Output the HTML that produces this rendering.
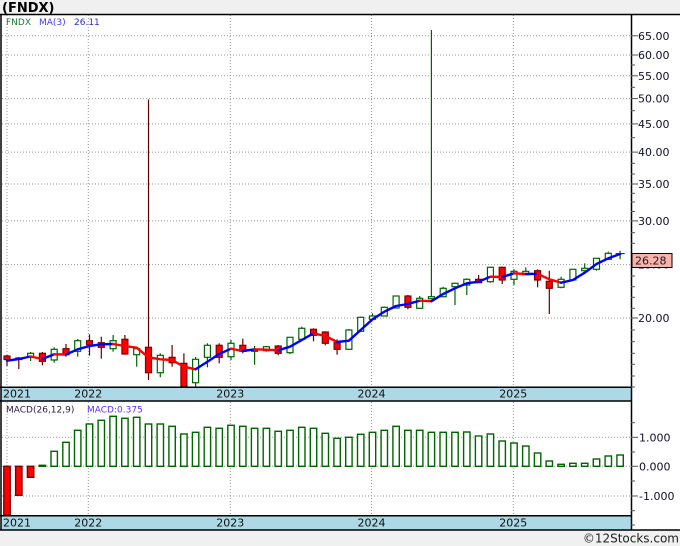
<!DOCTYPE html>
<html><head><meta charset="utf-8"><style>
html,body{margin:0;padding:0;background:#fff;}
svg{display:block;}
text{font-family:"DejaVu Sans","Liberation Sans",sans-serif;}
</style></head><body>
<svg width="680" height="546" viewBox="0 0 680 546" xmlns="http://www.w3.org/2000/svg">
<rect x="0" y="0" width="680" height="546" fill="#fff"/>
<rect x="0" y="0" width="680" height="14" fill="#f0f0f0"/>
<rect x="0" y="530" width="680" height="16" fill="#f0f0f0"/>
<text x="2" y="12" font-family="Liberation Sans, sans-serif" font-weight="bold" font-size="13" fill="#000">(FNDX)</text>

<rect x="1" y="387.3" width="630.5" height="13.7" fill="#add8e6"/>
<rect x="1" y="515.7" width="630.5" height="14.3" fill="#add8e6"/>

<g stroke="#9a9a9a" stroke-width="1" stroke-dasharray="1 2" fill="none">
<line x1="2" y1="35.8" x2="631" y2="35.8"/>
<line x1="2" y1="55" x2="631" y2="55"/>
<line x1="2" y1="75.8" x2="631" y2="75.8"/>
<line x1="2" y1="98.6" x2="631" y2="98.6"/>
<line x1="2" y1="123.9" x2="631" y2="123.9"/>
<line x1="2" y1="152.1" x2="631" y2="152.1"/>
<line x1="2" y1="184" x2="631" y2="184"/>
<line x1="2" y1="220.9" x2="631" y2="220.9"/>
<line x1="2" y1="264.6" x2="631" y2="264.6"/>
<line x1="2" y1="318" x2="631" y2="318"/>
<line x1="7" y1="15" x2="7" y2="387"/>
<line x1="88.3" y1="15" x2="88.3" y2="387"/>
<line x1="230.3" y1="15" x2="230.3" y2="387"/>
<line x1="371.5" y1="15" x2="371.5" y2="387"/>
<line x1="513.3" y1="15" x2="513.3" y2="387"/>
<line x1="2" y1="437.3" x2="631" y2="437.3"/>
<line x1="2" y1="466.3" x2="631" y2="466.3"/>
<line x1="2" y1="496" x2="631" y2="496"/>
<line x1="7" y1="402" x2="7" y2="515"/>
<line x1="88.3" y1="402" x2="88.3" y2="515"/>
<line x1="230.3" y1="402" x2="230.3" y2="515"/>
<line x1="371.5" y1="402" x2="371.5" y2="515"/>
<line x1="513.3" y1="402" x2="513.3" y2="515"/>
</g>

<text x="6" y="25" font-size="9" fill="#1f7a3a">FNDX</text>
<text x="39" y="25" font-size="9" fill="#3a3aff">MA(3)</text>
<text x="74" y="25" font-size="9" fill="#2a2ae0">26.11</text>
<text x="6" y="412.7" font-size="9" fill="#2a1a3a">MACD(26,12,9)</text>
<text x="87" y="412.7" font-size="9" fill="#5a30ff">MACD:0.375</text>

<g stroke-width="1.2">
<g stroke="#600000">
<line x1="7.0" y1="355" x2="7.0" y2="366"/>
<line x1="18.8" y1="357" x2="18.8" y2="369"/>
<line x1="42.4" y1="352" x2="42.4" y2="365.3"/>
<line x1="66.0" y1="344" x2="66.0" y2="356.7"/>
<line x1="89.5" y1="334.3" x2="89.5" y2="355.7"/>
<line x1="101.3" y1="336.7" x2="101.3" y2="358.7"/>
<line x1="124.9" y1="335" x2="124.9" y2="354.7"/>
<line x1="148.5" y1="99.5" x2="148.5" y2="380"/>
<line x1="172.1" y1="345" x2="172.1" y2="366.7"/>
<line x1="183.9" y1="353.3" x2="183.9" y2="387"/>
<line x1="219.2" y1="343.3" x2="219.2" y2="363.3"/>
<line x1="242.8" y1="338.7" x2="242.8" y2="353.3"/>
<line x1="278.2" y1="345" x2="278.2" y2="355.3"/>
<line x1="313.5" y1="328.3" x2="313.5" y2="341.3"/>
<line x1="325.3" y1="331.3" x2="325.3" y2="345.3"/>
<line x1="337.1" y1="339.3" x2="337.1" y2="354.7"/>
<line x1="407.9" y1="295" x2="407.9" y2="309.3"/>
<line x1="478.6" y1="275" x2="478.6" y2="282.7"/>
<line x1="502.2" y1="266.7" x2="502.2" y2="284"/>
<line x1="537.6" y1="269.3" x2="537.6" y2="287.3"/>
<line x1="549.3" y1="270.7" x2="549.3" y2="314"/>
</g>
<g stroke="#006400">
<line x1="30.6" y1="352" x2="30.6" y2="361"/>
<line x1="54.2" y1="347.3" x2="54.2" y2="362.7"/>
<line x1="77.7" y1="339" x2="77.7" y2="356.7"/>
<line x1="113.1" y1="335" x2="113.1" y2="351.7"/>
<line x1="136.7" y1="346.7" x2="136.7" y2="366.7"/>
<line x1="160.3" y1="353.3" x2="160.3" y2="377.3"/>
<line x1="195.6" y1="357" x2="195.6" y2="387"/>
<line x1="207.4" y1="343.3" x2="207.4" y2="367.3"/>
<line x1="231.0" y1="340" x2="231.0" y2="360"/>
<line x1="254.6" y1="346" x2="254.6" y2="364.7"/>
<line x1="266.4" y1="346" x2="266.4" y2="351.7"/>
<line x1="290.0" y1="337" x2="290.0" y2="354"/>
<line x1="301.8" y1="326.7" x2="301.8" y2="340"/>
<line x1="348.9" y1="329" x2="348.9" y2="350"/>
<line x1="360.7" y1="316.5" x2="360.7" y2="332"/>
<line x1="372.5" y1="313.3" x2="372.5" y2="320"/>
<line x1="384.3" y1="306.5" x2="384.3" y2="316.5"/>
<line x1="396.1" y1="295.5" x2="396.1" y2="308.5"/>
<line x1="419.7" y1="296" x2="419.7" y2="308.3"/>
<line x1="431.4" y1="30" x2="431.4" y2="299"/>
<line x1="443.2" y1="286.7" x2="443.2" y2="297.3"/>
<line x1="455.0" y1="282.7" x2="455.0" y2="305"/>
<line x1="466.8" y1="278.3" x2="466.8" y2="295"/>
<line x1="490.4" y1="266.7" x2="490.4" y2="282.7"/>
<line x1="514.0" y1="269.3" x2="514.0" y2="285"/>
<line x1="525.8" y1="267.3" x2="525.8" y2="274.7"/>
<line x1="561.1" y1="276.7" x2="561.1" y2="288.3"/>
<line x1="572.9" y1="269" x2="572.9" y2="281"/>
<line x1="584.7" y1="263.3" x2="584.7" y2="270.7"/>
<line x1="596.5" y1="258.3" x2="596.5" y2="270.7"/>
<line x1="608.3" y1="251.7" x2="608.3" y2="260"/>
<line x1="620.1" y1="250.7" x2="620.1" y2="259.3"/>
<line x1="615.6" y1="253.6" x2="624.6" y2="253.6"/>
</g>
</g>

<g stroke-width="1.2">
<g fill="#ff0000" stroke="#800000">
<rect x="4.0" y="356" width="6" height="3.5"/>
<rect x="15.8" y="358" width="6" height="1.5"/>
<rect x="39.4" y="353.3" width="6" height="8"/>
<rect x="63.0" y="348.7" width="6" height="6"/>
<rect x="86.5" y="340.7" width="6" height="4"/>
<rect x="98.3" y="342.7" width="6" height="4.6"/>
<rect x="121.9" y="339.3" width="6" height="14.7"/>
<rect x="145.5" y="347.3" width="6" height="25.4"/>
<rect x="169.1" y="357.3" width="6" height="5.4"/>
<rect x="180.9" y="363.3" width="6" height="23.4"/>
<rect x="216.2" y="345.3" width="6" height="12"/>
<rect x="239.8" y="345.3" width="6" height="6"/>
<rect x="275.2" y="346" width="6" height="7.3"/>
<rect x="310.5" y="329.3" width="6" height="6"/>
<rect x="322.3" y="332" width="6" height="11.3"/>
<rect x="334.1" y="342.7" width="6" height="6.6"/>
<rect x="404.9" y="296" width="6" height="11.3"/>
<rect x="475.6" y="279.3" width="6" height="3.4"/>
<rect x="499.2" y="267.3" width="6" height="12.7"/>
<rect x="534.6" y="270.7" width="6" height="9.3"/>
<rect x="546.3" y="281.3" width="6" height="7"/>
</g>
<g fill="#fff" stroke="#006400">
<rect x="27.6" y="353.3" width="6" height="4"/>
<rect x="51.2" y="349.3" width="6" height="10.7"/>
<rect x="74.7" y="340.7" width="6" height="10.6"/>
<rect x="110.1" y="340.7" width="6" height="8"/>
<rect x="133.7" y="348.7" width="6" height="6"/>
<rect x="157.3" y="355.3" width="6" height="17.4"/>
<rect x="192.6" y="359.3" width="6" height="23.4"/>
<rect x="204.4" y="345.3" width="6" height="12"/>
<rect x="228.0" y="343.3" width="6" height="13.4"/>
<rect x="251.6" y="349.3" width="6" height="2" fill="#006400"/>
<rect x="263.4" y="346.7" width="6" height="4"/>
<rect x="287.0" y="337.3" width="6" height="15.4"/>
<rect x="298.8" y="328.3" width="6" height="11"/>
<rect x="345.9" y="330" width="6" height="19.3"/>
<rect x="357.7" y="317.3" width="6" height="14"/>
<rect x="369.5" y="316" width="6" height="3.3"/>
<rect x="381.3" y="307.3" width="6" height="8.7"/>
<rect x="393.1" y="296" width="6" height="12"/>
<rect x="416.7" y="298.3" width="6" height="10"/>
<rect x="428.4" y="296.7" width="6" height="2"/>
<rect x="440.2" y="288.3" width="6" height="8.4"/>
<rect x="452.0" y="283.3" width="6" height="3.4"/>
<rect x="463.8" y="279.3" width="6" height="5.7"/>
<rect x="487.4" y="267.3" width="6" height="14.4"/>
<rect x="511.0" y="271.3" width="6" height="8"/>
<rect x="522.8" y="271.3" width="6" height="3.4"/>
<rect x="558.1" y="279.3" width="6" height="8"/>
<rect x="569.9" y="269.3" width="6" height="10.7"/>
<rect x="581.7" y="268.3" width="6" height="2.4"/>
<rect x="593.5" y="258.3" width="6" height="11"/>
<rect x="605.3" y="253.3" width="6" height="6"/>
</g>
</g>

<g fill="none" stroke-width="2.4" stroke-linejoin="round" stroke-linecap="round">
<polyline stroke="#0000ff" points="7.0,360.7 18.8,359 30.6,356.5"/>
<polyline stroke="#ff0000" points="30.6,356.5 42.4,359"/>
<polyline stroke="#0000ff" points="42.4,359 54.2,354.3"/>
<polyline stroke="#ff0000" points="54.2,354.3 66.0,354.5"/>
<polyline stroke="#0000ff" points="66.0,354.5 77.7,349.3 89.5,346 101.3,344.3 113.1,344"/>
<polyline stroke="#ff0000" points="113.1,344 124.9,346 136.7,347.7 148.5,357.3 160.3,359.3 172.1,360 183.9,366.7 195.6,369.3"/>
<polyline stroke="#0000ff" points="195.6,369.3 207.4,361.7 219.2,354 231.0,348.7"/>
<polyline stroke="#ff0000" points="231.0,348.7 242.8,351"/>
<polyline stroke="#0000ff" points="242.8,351 254.6,349.3"/>
<polyline stroke="#ff0000" points="254.6,349.3 266.4,349.7 278.2,350.3"/>
<polyline stroke="#0000ff" points="278.2,350.3 290.0,346.7 301.8,340 313.5,333.3"/>
<polyline stroke="#ff0000" points="313.5,333.3 325.3,336 337.1,342"/>
<polyline stroke="#0000ff" points="337.1,342 348.9,340.7 360.7,330 372.5,319.3 384.3,311.7 396.1,306 407.9,304 419.7,300.7"/>
<polyline stroke="#ff0000" points="419.7,300.7 431.4,301.2"/>
<polyline stroke="#0000ff" points="431.4,301.2 443.2,294 455.0,288.3 466.8,283.3 478.6,281.7 490.4,276.7"/>
<polyline stroke="#ff0000" points="490.4,276.7 502.2,277"/>
<polyline stroke="#0000ff" points="502.2,277 514.0,273.3"/>
<polyline stroke="#ff0000" points="514.0,273.3 525.8,274"/>
<polyline stroke="#0000ff" points="525.8,274 537.6,273.8"/>
<polyline stroke="#ff0000" points="537.6,273.8 549.3,279.3 561.1,282.7"/>
<polyline stroke="#0000ff" points="561.1,282.7 572.9,280 584.7,272.7 596.5,264 608.3,258.3 620.1,254"/>
</g>

<g stroke-width="1.4">
<g fill="#ff0000" stroke="#800000">
<rect x="3.8" y="466.3" width="6.4" height="48.7"/>
<rect x="15.6" y="466.3" width="6.4" height="29"/>
<rect x="27.4" y="466.3" width="6.4" height="11"/>
</g>
<g fill="#fff" stroke="#006400">
<rect x="39.2" y="465.3" width="6.4" height="1" fill="#006400"/>
<rect x="51.0" y="451.3" width="6.4" height="15"/>
<rect x="62.8" y="442.3" width="6.4" height="24"/>
<rect x="74.5" y="430.3" width="6.4" height="36"/>
<rect x="86.3" y="424" width="6.4" height="42.3"/>
<rect x="98.1" y="420.3" width="6.4" height="46"/>
<rect x="109.9" y="416.3" width="6.4" height="50"/>
<rect x="121.7" y="418.3" width="6.4" height="48"/>
<rect x="133.5" y="417.3" width="6.4" height="49"/>
<rect x="145.3" y="424" width="6.4" height="42.3"/>
<rect x="157.1" y="424" width="6.4" height="42.3"/>
<rect x="168.9" y="426.3" width="6.4" height="40"/>
<rect x="180.7" y="434" width="6.4" height="32.3"/>
<rect x="192.4" y="432.3" width="6.4" height="34"/>
<rect x="204.2" y="427.3" width="6.4" height="39"/>
<rect x="216.0" y="428.3" width="6.4" height="38"/>
<rect x="227.8" y="425.3" width="6.4" height="41"/>
<rect x="239.6" y="426.3" width="6.4" height="40"/>
<rect x="251.4" y="428.3" width="6.4" height="38"/>
<rect x="263.2" y="428.3" width="6.4" height="38"/>
<rect x="275.0" y="431.3" width="6.4" height="35"/>
<rect x="286.8" y="430.3" width="6.4" height="36"/>
<rect x="298.6" y="427.3" width="6.4" height="39"/>
<rect x="310.3" y="428.3" width="6.4" height="38"/>
<rect x="322.1" y="433.3" width="6.4" height="33"/>
<rect x="333.9" y="438.3" width="6.4" height="28"/>
<rect x="345.7" y="437.3" width="6.4" height="29"/>
<rect x="357.5" y="434.3" width="6.4" height="32"/>
<rect x="369.3" y="432.3" width="6.4" height="34"/>
<rect x="381.1" y="430.3" width="6.4" height="36"/>
<rect x="392.9" y="426.3" width="6.4" height="40"/>
<rect x="404.7" y="430.3" width="6.4" height="36"/>
<rect x="416.5" y="430.3" width="6.4" height="36"/>
<rect x="428.2" y="432.3" width="6.4" height="34"/>
<rect x="440.0" y="432.3" width="6.4" height="34"/>
<rect x="451.8" y="432.3" width="6.4" height="34"/>
<rect x="463.6" y="432" width="6.4" height="34.3"/>
<rect x="475.4" y="436" width="6.4" height="30.3"/>
<rect x="487.2" y="434" width="6.4" height="32.3"/>
<rect x="499.0" y="441" width="6.4" height="25.3"/>
<rect x="510.8" y="443" width="6.4" height="23.3"/>
<rect x="522.6" y="446" width="6.4" height="20.3"/>
<rect x="534.4" y="453" width="6.4" height="13.3"/>
<rect x="546.1" y="461" width="6.4" height="5.3"/>
<rect x="557.9" y="464.3" width="6.4" height="2"/>
<rect x="569.7" y="463.3" width="6.4" height="3"/>
<rect x="581.5" y="463.3" width="6.4" height="3"/>
<rect x="593.3" y="459" width="6.4" height="7.3"/>
<rect x="605.1" y="456" width="6.4" height="10.3"/>
<rect x="616.9" y="455" width="6.4" height="11.3"/>
</g>
</g>

<g stroke="#000" stroke-width="1.5">
<line x1="0" y1="14.5" x2="680" y2="14.5"/>
<line x1="1" y1="14" x2="1" y2="530"/>
<line x1="631.5" y1="14" x2="631.5" y2="530"/>
<line x1="0" y1="387.3" x2="631.5" y2="387.3"/>
<line x1="0" y1="401" x2="631.5" y2="401"/>
<line x1="0" y1="515.7" x2="631.5" y2="515.7"/>
<line x1="0" y1="530" x2="680" y2="530"/>
</g>

<g stroke="#555" stroke-width="1">
<line x1="631" y1="35.8" x2="638" y2="35.8"/>
<line x1="631" y1="55" x2="638" y2="55"/>
<line x1="631" y1="75.8" x2="638" y2="75.8"/>
<line x1="631" y1="98.6" x2="638" y2="98.6"/>
<line x1="631" y1="123.9" x2="638" y2="123.9"/>
<line x1="631" y1="152.1" x2="638" y2="152.1"/>
<line x1="631" y1="184" x2="638" y2="184"/>
<line x1="631" y1="220.9" x2="638" y2="220.9"/>
<line x1="631" y1="318" x2="638" y2="318"/>
<line x1="631" y1="65" x2="635" y2="65"/>
<line x1="631" y1="87.3" x2="635" y2="87.3"/>
<line x1="631" y1="110.7" x2="635" y2="110.7"/>
<line x1="631" y1="137.7" x2="635" y2="137.7"/>
<line x1="631" y1="163.3" x2="635" y2="163.3"/>
<line x1="631" y1="174" x2="635" y2="174"/>
<line x1="631" y1="193.3" x2="635" y2="193.3"/>
<line x1="631" y1="202" x2="635" y2="202"/>
<line x1="631" y1="211.5" x2="635" y2="211.5"/>
<line x1="631" y1="232.7" x2="635" y2="232.7"/>
<line x1="631" y1="243.3" x2="635" y2="243.3"/>
<line x1="631" y1="276" x2="635" y2="276"/>
<line x1="631" y1="286.7" x2="635" y2="286.7"/>
<line x1="631" y1="297.3" x2="635" y2="297.3"/>
<line x1="631" y1="308.3" x2="635" y2="308.3"/>
<line x1="631" y1="330" x2="635" y2="330"/>
<line x1="631" y1="341.7" x2="635" y2="341.7"/>
<line x1="631" y1="353.3" x2="635" y2="353.3"/>
<line x1="631" y1="364.3" x2="635" y2="364.3"/>
<line x1="631" y1="376" x2="635" y2="376"/>
<line x1="631" y1="387" x2="635" y2="387"/>
<line x1="631" y1="422.7" x2="635" y2="422.7"/>
<line x1="631" y1="437.3" x2="638" y2="437.3"/>
<line x1="631" y1="452" x2="635" y2="452"/>
<line x1="631" y1="466.3" x2="638" y2="466.3"/>
<line x1="631" y1="481" x2="635" y2="481"/>
<line x1="631" y1="496" x2="638" y2="496"/>
<line x1="631" y1="510.7" x2="635" y2="510.7"/>
<line x1="631" y1="525" x2="635" y2="525"/>
</g>

<g font-size="11" fill="#10102a">
<text x="638" y="39.8">65.00</text>
<text x="638" y="59">60.00</text>
<text x="638" y="79.8">55.00</text>
<text x="638" y="102.6">50.00</text>
<text x="638" y="127.9">45.00</text>
<text x="638" y="156.1">40.00</text>
<text x="638" y="188">35.00</text>
<text x="638" y="224.9">30.00</text>
<text x="638" y="268.6">25.00</text>
<text x="638" y="322">20.00</text>
<text x="639" y="441.3">1.000</text>
<text x="639" y="470.3">0.000</text>
<text x="639" y="500">-1.000</text>
</g>
<rect x="632" y="253.5" width="40" height="14" fill="#f9b4aa" stroke="#000" stroke-width="1"/>
<text x="635" y="264.5" font-size="11" fill="#1a1a2a">26.28</text>

<g font-size="11" fill="#111">
<text x="3" y="397.5">2021</text>
<text x="88.3" y="397.5" text-anchor="middle">2022</text>
<text x="230.3" y="397.5" text-anchor="middle">2023</text>
<text x="371.5" y="397.5" text-anchor="middle">2024</text>
<text x="513.3" y="397.5" text-anchor="middle">2025</text>
<text x="3" y="526.3">2021</text>
<text x="88.3" y="526.3" text-anchor="middle">2022</text>
<text x="230.3" y="526.3" text-anchor="middle">2023</text>
<text x="371.5" y="526.3" text-anchor="middle">2024</text>
<text x="513.3" y="526.3" text-anchor="middle">2025</text>
</g>

<text x="679" y="542.5" text-anchor="end" font-family="Liberation Sans, sans-serif" font-size="12" fill="#222">©12Stocks.com</text>
</svg>
</body></html>
